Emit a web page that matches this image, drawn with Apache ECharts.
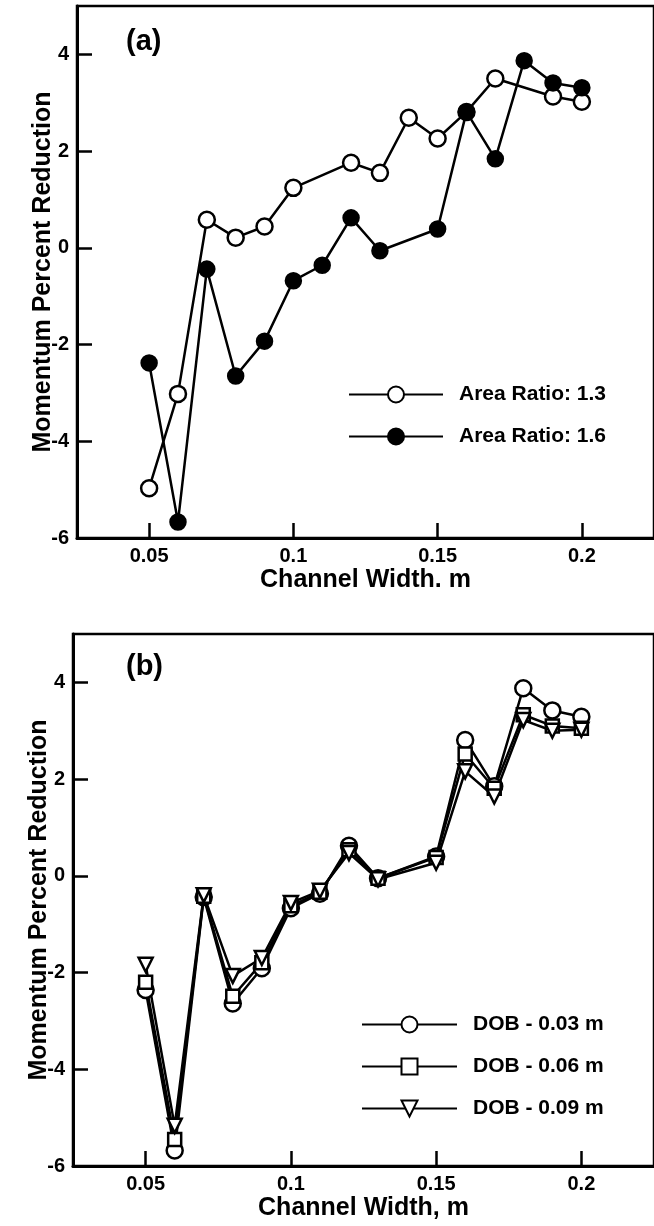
<!DOCTYPE html>
<html>
<head>
<meta charset="utf-8">
<script src="https://cdn.jsdelivr.net/npm/echarts@6/dist/echarts.min.js"></script>
<style>
  html, body { margin: 0; padding: 0; background: #fff; overflow: hidden; }
  #main { width: 654px; height: 1226px; }
</style>
</head>
<body>
<div id="main"></div>
<script>
// panel (a): channel width vs momentum percent reduction
const widthRatio13 = [0.05, 0.06, 0.07, 0.08, 0.09, 0.10, 0.12, 0.13, 0.14, 0.15, 0.16, 0.17, 0.19, 0.20];
const ratio13 = [-4.97, -3.02, 0.58, 0.21, 0.44, 1.24, 1.76, 1.55, 2.69, 2.26, 2.81, 3.50, 3.13, 3.02];
const widthRatio16 = [0.05, 0.06, 0.07, 0.08, 0.09, 0.10, 0.11, 0.12, 0.13, 0.15, 0.16, 0.17, 0.18, 0.19, 0.20];
const ratio16 = [-2.38, -5.67, -0.44, -2.65, -1.93, -0.68, -0.36, 0.62, -0.06, 0.39, 2.81, 1.84, 3.87, 3.41, 3.31];

// panel (b)
const widthDob = [0.05, 0.06, 0.07, 0.08, 0.09, 0.10, 0.11, 0.12, 0.13, 0.15, 0.16, 0.17, 0.18, 0.19, 0.20];
const dob003 = [-2.36, -5.68, -0.44, -2.64, -1.91, -0.67, -0.37, 0.62, -0.05, 0.40, 2.81, 1.85, 3.88, 3.42, 3.29];
const dob006 = [-2.20, -5.45, -0.42, -2.49, -1.80, -0.62, -0.34, 0.54, -0.05, 0.38, 2.52, 1.81, 3.33, 3.10, 3.05];
const dob009 = [-1.84, -5.17, -0.40, -2.07, -1.70, -0.56, -0.31, 0.47, -0.07, 0.27, 2.16, 1.64, 3.22, 3.00, 3.02];

const xTicks = [0.05, 0.1, 0.15, 0.2];
const yTicks = [-6, -4, -2, 0, 2, 4];

const FONT = "'Liberation Sans', Arial, sans-serif";

const pairs = (xs, ys) => xs.map((x, i) => [x, ys[i]]);

function xAxisFor(gridIndex, name) {
    return {
        type: 'value',
        gridIndex: gridIndex,
        min: 0.025,
        max: 0.225,
        name: name,
        nameLocation: 'middle',
        nameGap: 30,
        nameMoveOverlap: false,
        nameTextStyle: { color: '#000', fontFamily: FONT, fontWeight: 'bold', fontSize: 25 },
        axisLine: { show: true, onZero: false, lineStyle: { color: '#000', width: 3 } },
        axisTick: { show: true, inside: true, length: 15, customValues: xTicks, lineStyle: { color: '#000', width: 2.5 } },
        axisLabel: {
            customValues: xTicks, margin: 8, color: '#000',
            fontFamily: FONT, fontWeight: 'bold', fontSize: 20,
            formatter: v => String(+v.toFixed(3))
        },
        splitLine: { show: false }
    };
}

function yAxisFor(gridIndex) {
    return {
        type: 'value',
        gridIndex: gridIndex,
        min: -6,
        max: 5,
        name: 'Momentum Percent Reduction',
        nameLocation: 'middle',
        nameGap: 21,
        nameMoveOverlap: false,
        nameTextStyle: { color: '#000', fontFamily: FONT, fontWeight: 'bold', fontSize: 25 },
        axisLine: { show: true, onZero: false, lineStyle: { color: '#000', width: 3 } },
        axisTick: { show: true, inside: true, length: 15, customValues: yTicks, lineStyle: { color: '#000', width: 2.5 } },
        axisLabel: {
            customValues: yTicks, margin: 8, color: '#000',
            fontFamily: FONT, fontWeight: 'bold', fontSize: 20
        },
        splitLine: { show: false }
    };
}

function lineSeries(name, idx, data, symbol, size, fill, rotate) {
    return {
        name: name,
        type: 'line',
        xAxisIndex: idx,
        yAxisIndex: idx,
        data: data,
        symbol: symbol,
        symbolSize: size,
        symbolRotate: rotate || 0,
        showAllSymbol: true,
        lineStyle: { color: '#000', width: 2.5 },
        itemStyle: { color: fill, borderColor: '#000', borderWidth: 2.5, opacity: 1 },
        emphasis: { disabled: true }
    };
}

const legendText = {
    color: '#000', fontFamily: FONT, fontWeight: 'bold', fontSize: 21,
    padding: [0, 0, 0, 11]
};

const chart = echarts.init(document.getElementById('main'), null, { renderer: 'canvas' });
chart.setOption({
    animation: false,
    backgroundColor: '#fff',
    title: [
        { text: '(a)', left: 121, top: 22, textStyle: { color: '#000', fontFamily: FONT, fontWeight: 'bold', fontSize: 29 } },
        { text: '(b)', left: 121, top: 647, textStyle: { color: '#000', fontFamily: FONT, fontWeight: 'bold', fontSize: 29 } }
    ],
    grid: [
        { left: 77, top: 6, width: 584, height: 532, show: true, borderColor: '#000', borderWidth: 2.5, backgroundColor: 'transparent' },
        { left: 73, top: 634, width: 583, height: 532, show: true, borderColor: '#000', borderWidth: 2.5, backgroundColor: 'transparent' }
    ],
    xAxis: [xAxisFor(0, 'Channel Width. m'), xAxisFor(1, 'Channel Width, m')],
    yAxis: [yAxisFor(0), yAxisFor(1)],
    legend: [
        {
            data: ['Area Ratio: 1.3', 'Area Ratio: 1.6'],
            orient: 'vertical', left: 343, top: 379,
            itemWidth: 94, itemHeight: 20, itemGap: 21,
            textStyle: legendText, selectedMode: false
        },
        {
            data: ['DOB - 0.03 m', 'DOB - 0.06 m', 'DOB - 0.09 m'],
            orient: 'vertical', left: 356, top: 1009,
            itemWidth: 95, itemHeight: 20, itemGap: 21,
            textStyle: legendText, selectedMode: false
        }
    ],
    series: [
        lineSeries('Area Ratio: 1.3', 0, pairs(widthRatio13, ratio13), 'circle', 16, '#fff'),
        lineSeries('Area Ratio: 1.6', 0, pairs(widthRatio16, ratio16), 'circle', 15, '#000'),
        lineSeries('DOB - 0.03 m', 1, pairs(widthDob, dob003), 'circle', 16, '#fff'),
        lineSeries('DOB - 0.06 m', 1, pairs(widthDob, dob006), 'rect', 13, '#fff'),
        lineSeries('DOB - 0.09 m', 1, pairs(widthDob, dob009), 'triangle', 14, '#fff', 180)
    ]
});
</script>
</body>
</html>
